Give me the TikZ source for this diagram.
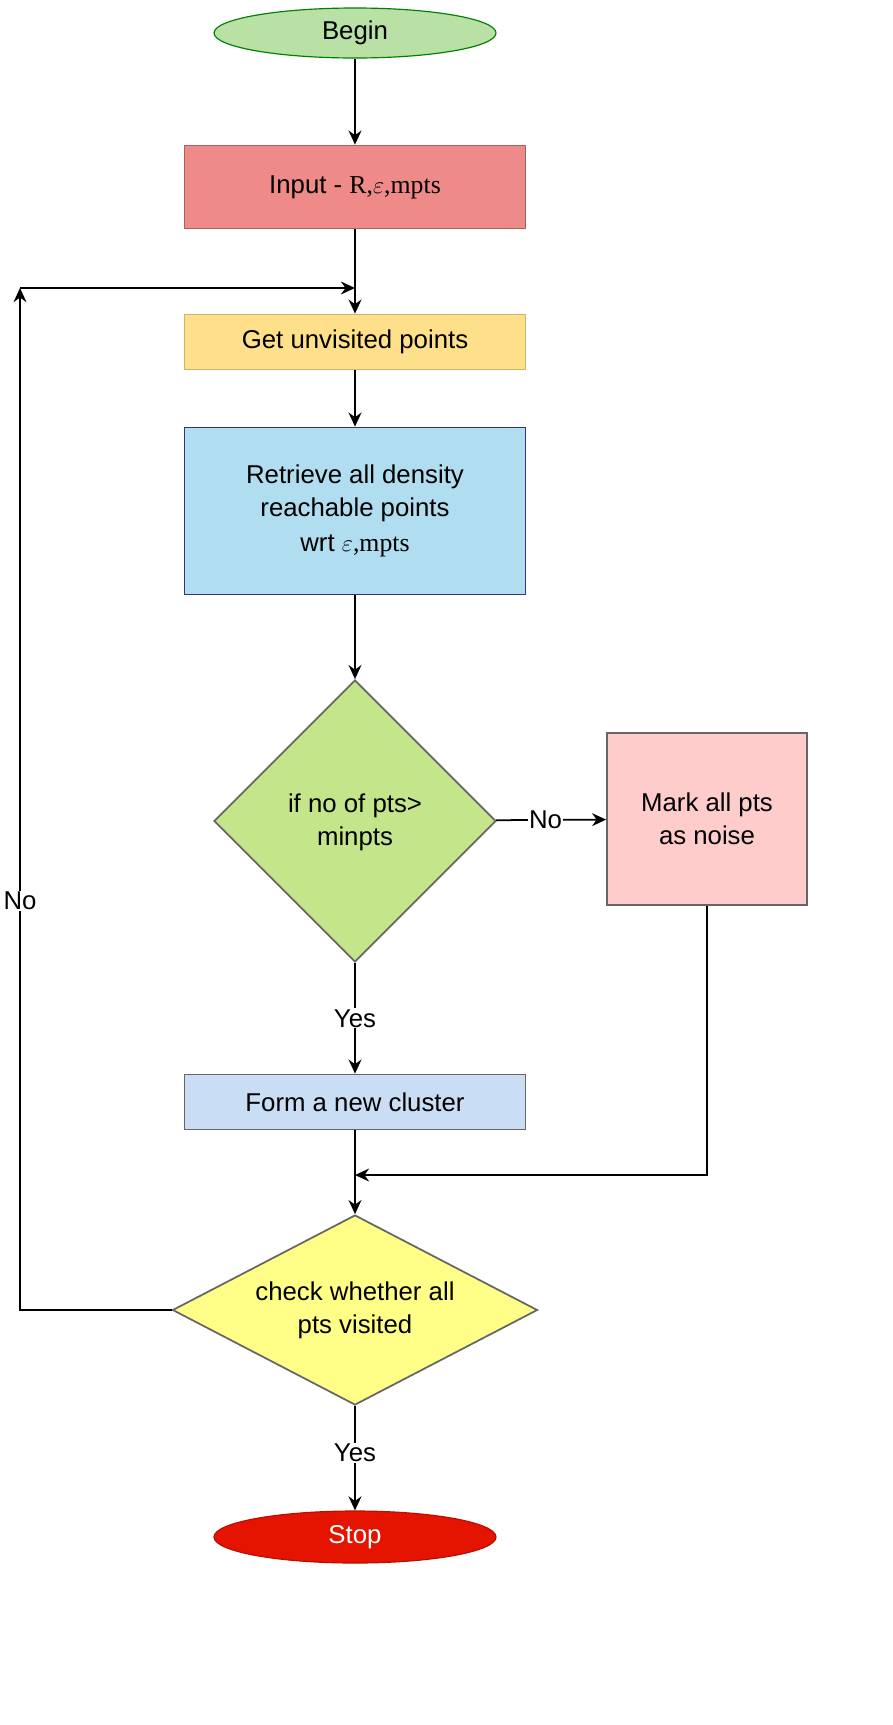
\documentclass[tikz,border=0pt]{standalone}
\usepackage{fontspec}
\setmainfont{Liberation Sans}
\newfontfamily\serifface{Liberation Serif}
\usetikzlibrary{shapes.geometric,arrows.meta}
\definecolor{inred}{HTML}{EE8A87}
\definecolor{inyel}{HTML}{FFE08A}
\definecolor{retblue}{HTML}{B1DDF0}
\definecolor{diagreen}{HTML}{C5E58A}
\definecolor{markpink}{HTML}{FFCCCC}
\definecolor{formblue}{HTML}{C9DDF5}
\definecolor{chkyel}{HTML}{FFFF88}
\definecolor{stopred}{HTML}{E51400}
\definecolor{begingreen}{HTML}{B9E0A5}
\tikzset{
  txt/.style={font=\fontsize{22}{28}\selectfont, align=center},
  box/.style={txt, draw=#1!70!black, line width=1.5pt, inner sep=0pt},
  dia/.style={txt, diamond, draw=black!60, line width=1.5pt, inner sep=0pt},
  arr/.style={line width=1.5pt, -{Stealth[length=12pt,width=11pt]}},
  lbl/.style={txt, fill=white, inner sep=1pt}
}
\begin{document}
\begin{tikzpicture}[x=0.03cm,y=-0.03cm]
\useasboundingbox (0,0) rectangle (893,1725);
\node[txt, ellipse, draw=green!50!black, fill=begingreen, minimum width=282*0.03cm, minimum height=50*0.03cm, line width=1pt] (begin) at (355,33) {Begin};
\node[box=inred, fill=inred, minimum width=341*0.03cm, minimum height=83*0.03cm] (input) at (355,187) {Input - {\serifface R,$\varepsilon$,mpts}};
\node[box=inyel, draw=inyel!80!black, fill=inyel, minimum width=341*0.03cm, minimum height=55*0.03cm] (get) at (355,342) {Get unvisited points};
\node[box=retblue, draw=blue!40!black!80, fill=retblue, minimum width=341*0.03cm, minimum height=167*0.03cm] (ret) at (355,511) {Retrieve all density\\reachable points\\[2pt]wrt {\serifface $\varepsilon$,mpts}};
\node[dia, fill=diagreen, minimum width=282*0.03cm, minimum height=282*0.03cm, aspect=1] (d1) at (355,821) {};
\node[txt] at (355,822) {if no of pts>\\minpts};
\node[box=markpink, draw=black!60, fill=markpink, minimum width=200*0.03cm, minimum height=172*0.03cm] (mark) at (707,819) {Mark all pts\\as noise};
\node[box=formblue, draw=black!60, fill=formblue, minimum width=341*0.03cm, minimum height=55*0.03cm] (form) at (355,1102) {Form a new cluster};
\node[dia, fill=chkyel, minimum width=365*0.03cm, minimum height=190*0.03cm, aspect=1.92] (chk) at (355,1310) {};
\node[txt] at (355,1310) {check whether all\\pts visited};
\node[txt, ellipse, draw=stopred!80!black, fill=stopred, text=white, minimum width=282*0.03cm, minimum height=52*0.03cm, line width=1pt] (stop) at (355,1537) {Stop};
\coordinate (join) at (355,288);
\coordinate (corner) at (20,288);
\coordinate (bend) at (20,1310);
\coordinate (mjoin) at (707,1175);
\coordinate (fjoin) at (355,1175);
\draw[arr] (begin) -- (input);
\draw[arr] (input) -- (get);
\draw[arr] (get) -- (ret);
\draw[arr] (ret) -- (d1);
\draw[arr] (d1) -- node[lbl, pos=0.45] {No} (mark);
\draw[arr] (d1) -- node[lbl, pos=0.5] {Yes} (form);
\draw[arr] (form) -- (chk);
\draw[arr] (mark.south) -- (mjoin) -- (fjoin);
\draw[arr] (chk) -- node[lbl, pos=0.45] {Yes} (stop);
\draw[arr] (chk.west) -- (bend) -- node[lbl, pos=0.4] {No} (corner);
\draw[arr] (corner) -- (join);
\end{tikzpicture}
\end{document}
